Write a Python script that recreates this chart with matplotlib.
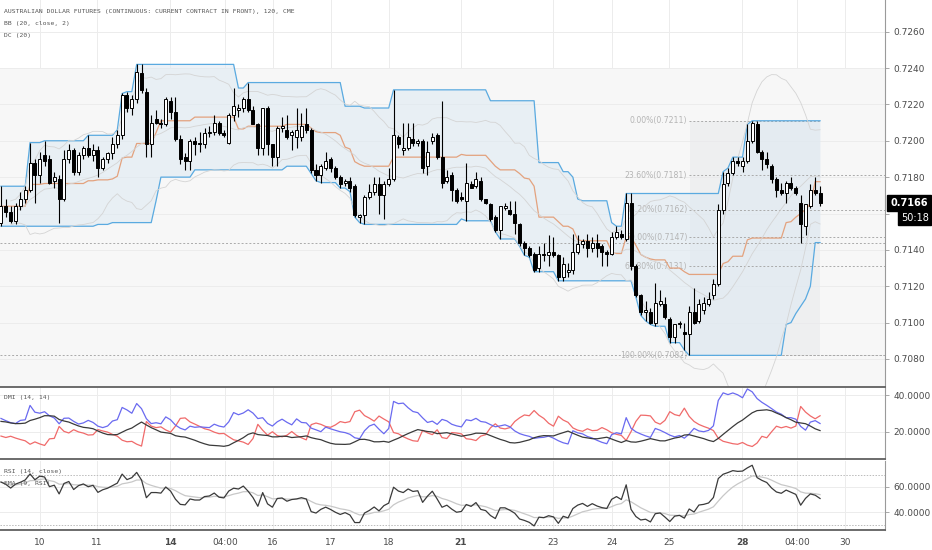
import matplotlib
matplotlib.use('Agg')
import matplotlib.pyplot as plt
import matplotlib.transforms as mtransforms
import numpy as np
import pandas as pd

# 120 min bars, prices in 1/10000 (0.7xxx)
opens = [7155, 7164, 7161, 7156, 7164, 7168, 7173, 7188, 7181, 7192, 7190, 7178, 7179, 7168, 7190, 7195, 7183, 7192, 7196, 7192,
         7195, 7185, 7190, 7193, 7198, 7203, 7225, 7218, 7223, 7237, 7227, 7198, 7212, 7210, 7209, 7222, 7216, 7201, 7191, 7189,
         7200, 7199, 7198, 7204, 7205, 7210, 7204, 7199, 7214, 7217, 7218, 7223, 7217, 7209, 7196, 7218, 7198, 7191, 7207, 7206,
         7203, 7202, 7202, 7209, 7206, 7184, 7181, 7185, 7190, 7185, 7180, 7177, 7178, 7175, 7158, 7159, 7169, 7172, 7176, 7170,
         7176, 7179, 7202, 7195, 7196, 7201, 7199, 7200, 7186, 7200, 7203, 7191, 7178, 7181, 7173, 7169, 7167, 7176, 7175, 7178,
         7168, 7165, 7158, 7151, 7163, 7162, 7160, 7154, 7144, 7141, 7138, 7130, 7138, 7137, 7139, 7137, 7125, 7128, 7129, 7139,
         7143, 7145, 7141, 7144, 7142, 7139, 7138, 7147, 7149, 7146, 7166, 7131, 7115, 7106, 7106, 7100, 7110, 7110, 7102, 7092,
         7099, 7095, 7094, 7106, 7101, 7107, 7110, 7115, 7121, 7162, 7177, 7182, 7189, 7186, 7189, 7200, 7209, 7194, 7190, 7186,
         7179, 7173, 7171, 7177, 7174, 7166, 7153, 7164, 7173, 7171]
highs = [7175, 7168, 7164, 7166, 7172, 7175, 7199, 7190, 7194, 7200, 7192, 7183, 7181, 7195, 7198, 7196, 7194, 7197, 7203, 7198,
         7197, 7191, 7194, 7202, 7206, 7226, 7227, 7225, 7242, 7242, 7229, 7214, 7217, 7212, 7224, 7224, 7224, 7203, 7193, 7201,
         7202, 7205, 7207, 7208, 7214, 7211, 7206, 7215, 7229, 7220, 7224, 7232, 7219, 7210, 7218, 7219, 7198, 7208, 7213, 7214,
         7206, 7218, 7215, 7218, 7207, 7187, 7187, 7194, 7191, 7186, 7181, 7179, 7180, 7176, 7160, 7170, 7176, 7180, 7180, 7178,
         7185, 7228, 7203, 7210, 7210, 7210, 7201, 7201, 7200, 7204, 7204, 7222, 7184, 7183, 7174, 7172, 7188, 7178, 7183, 7180,
         7168, 7166, 7159, 7164, 7166, 7167, 7167, 7155, 7145, 7142, 7139, 7142, 7144, 7148, 7147, 7138, 7136, 7133, 7149, 7148,
         7146, 7149, 7147, 7149, 7143, 7140, 7150, 7153, 7151, 7171, 7171, 7132, 7116, 7112, 7108, 7122, 7118, 7114, 7103, 7099,
         7101, 7100, 7109, 7119, 7113, 7114, 7117, 7124, 7165, 7183, 7185, 7191, 7191, 7191, 7209, 7211, 7211, 7195, 7194, 7187,
         7180, 7177, 7178, 7180, 7175, 7170, 7165, 7176, 7180, 7175]
lows = [7153, 7158, 7155, 7154, 7162, 7166, 7172, 7166, 7177, 7186, 7176, 7174, 7155, 7167, 7188, 7181, 7181, 7190, 7191, 7189,
        7180, 7184, 7188, 7190, 7196, 7201, 7216, 7214, 7221, 7226, 7191, 7191, 7209, 7207, 7208, 7212, 7200, 7187, 7184, 7184,
        7192, 7194, 7196, 7202, 7203, 7203, 7202, 7198, 7211, 7213, 7216, 7216, 7209, 7192, 7192, 7192, 7186, 7186, 7205, 7201,
        7195, 7196, 7200, 7204, 7182, 7178, 7177, 7184, 7183, 7179, 7174, 7175, 7172, 7158, 7155, 7154, 7168, 7170, 7160, 7157,
        7175, 7178, 7196, 7192, 7195, 7197, 7197, 7182, 7181, 7198, 7190, 7174, 7177, 7167, 7166, 7167, 7156, 7174, 7174, 7167,
        7165, 7156, 7150, 7146, 7162, 7159, 7149, 7142, 7137, 7136, 7128, 7128, 7134, 7131, 7136, 7123, 7123, 7125, 7127, 7138,
        7141, 7136, 7139, 7136, 7131, 7131, 7137, 7146, 7146, 7145, 7129, 7114, 7104, 7101, 7099, 7098, 7109, 7102, 7089, 7089,
        7097, 7085, 7082, 7099, 7100, 7105, 7109, 7113, 7120, 7160, 7175, 7181, 7186, 7183, 7188, 7199, 7193, 7184, 7185, 7177,
        7169, 7170, 7166, 7173, 7170, 7144, 7148, 7163, 7170, 7164]
closes = [7164, 7161, 7156, 7164, 7168, 7173, 7188, 7181, 7190, 7189, 7177, 7180, 7168, 7190, 7195, 7183, 7192, 7196, 7192, 7195,
          7185, 7190, 7193, 7198, 7203, 7225, 7218, 7223, 7238, 7228, 7198, 7210, 7210, 7209, 7223, 7216, 7201, 7190, 7189, 7200,
          7198, 7198, 7204, 7205, 7210, 7204, 7203, 7214, 7219, 7218, 7223, 7217, 7209, 7196, 7218, 7198, 7191, 7207, 7208, 7202,
          7205, 7206, 7208, 7206, 7184, 7181, 7186, 7189, 7185, 7180, 7176, 7178, 7174, 7159, 7159, 7169, 7172, 7176, 7170, 7176,
          7179, 7203, 7198, 7196, 7202, 7199, 7200, 7185, 7194, 7202, 7191, 7177, 7180, 7173, 7167, 7168, 7177, 7174, 7179, 7168,
          7166, 7157, 7151, 7164, 7164, 7160, 7155, 7144, 7141, 7137, 7129, 7138, 7137, 7139, 7137, 7125, 7132, 7129, 7139, 7143,
          7145, 7141, 7144, 7141, 7139, 7138, 7147, 7150, 7147, 7166, 7131, 7115, 7106, 7107, 7100, 7111, 7112, 7103, 7092, 7099,
          7100, 7094, 7106, 7100, 7110, 7111, 7113, 7121, 7162, 7176, 7182, 7189, 7188, 7189, 7200, 7210, 7194, 7190, 7187, 7179,
          7173, 7171, 7177, 7174, 7171, 7154, 7165, 7173, 7171, 7166]

tick_pos = [8.0, 19.8, 34.9, 46.2, 56.1, 68.1, 80.1, 94.9, 113.9, 126.1, 137.8, 152.9, 164.3, 174.2]
tick_labels = ['10', '11', '14', '04:00', '16', '17', '18', '21', '23', '24', '25', '28', '04:00', '30']
bold_labels = ['14', '21', '28']

fib_pct = ['0.00%', '23.60%', '38.20%', '50.00%', '61.80%', '100.00%']
fib_values = [0.7211, 0.7181, 0.7162, 0.7147, 0.7131, 0.7082]
hlines = [0.7144, 0.7082]

last_price = '0.7166'
countdown = '50:18'

o = np.array(opens) / 10000
h = np.array(highs) / 10000
l = np.array(lows) / 10000
c = np.array(closes) / 10000
n = len(c)
x = np.arange(n)

H = pd.Series(h); L = pd.Series(l); C = pd.Series(c)

# Donchian channel (20)
dc_up = H.rolling(20, min_periods=1).max()
dc_lo = L.rolling(20, min_periods=1).min()
dc_mid = (dc_up + dc_lo) / 2

# Bollinger (20, close, 2)
bb_mid = C.rolling(20, min_periods=3).mean()
bb_sd = C.rolling(20, min_periods=3).std(ddof=0)
bb_up = bb_mid + 2 * bb_sd
bb_lo = bb_mid - 2 * bb_sd


def wilder(vals, p=14):
    # Wilder smoothing, started from the mean of the first p values
    vals = np.asarray(vals, dtype=float)
    avg = np.nanmean(vals[1:p + 1])
    out = np.empty(len(vals))
    for i, v in enumerate(vals):
        if not np.isnan(v):
            avg = (avg * (p - 1) + v) / p
        out[i] = avg
    return out


# DMI (14, 14)
upm = H.diff().values
dnm = -L.diff().values
pdm = np.where((upm > dnm) & (upm > 0), upm, 0.0)
mdm = np.where((dnm > upm) & (dnm > 0), dnm, 0.0)
pdm[0] = np.nan; mdm[0] = np.nan
prev_c = C.shift(1).values
tr = np.nanmax(np.vstack([h - l, np.abs(h - prev_c), np.abs(l - prev_c)]), axis=0)
atr = wilder(tr)
pdi = 100 * wilder(pdm) / atr
mdi = 100 * wilder(mdm) / atr
dx = 100 * np.abs(pdi - mdi) / (pdi + mdi)
adx = wilder(dx)

# RSI (14) + EMA 9
d = C.diff().values
gain = np.where(np.isnan(d), np.nan, np.clip(d, 0, None))
loss = np.where(np.isnan(d), np.nan, np.clip(-d, 0, None))
rsi = 100 - 100 / (1 + wilder(gain) / wilder(loss))
rsi_ema = pd.Series(rsi).ewm(span=9, adjust=True).mean()

W, Hpx = 932, 550
fig = plt.figure(figsize=(W / 100, Hpx / 100), dpi=100)
fig.patch.set_facecolor('white')

right = 885 / W
ax = fig.add_axes([0, 1 - 387 / Hpx, right, 387 / Hpx])
ax_dmi = fig.add_axes([0, 1 - 459 / Hpx, right, 71 / Hpx], sharex=ax)
ax_rsi = fig.add_axes([0, 1 - 530 / Hpx, right, 69 / Hpx], sharex=ax)

xlim = (-0.2, 182.4)
grid_c = '#ececec'
txt_c = '#4a4a4a'

for a in (ax, ax_dmi, ax_rsi):
    a.set_facecolor('white')
    for s in ('top', 'left'):
        a.spines[s].set_visible(False)
    a.spines['right'].set_color('#9a9a9a')
    a.spines['bottom'].set_color('#606060')
    a.spines['bottom'].set_linewidth(1.3)
    a.yaxis.tick_right()
    a.tick_params(axis='y', length=3, width=0.6, color='#9a9a9a', labelsize=6.5,
                  labelcolor=txt_c, pad=3)
    a.tick_params(axis='x', length=0)
    for t in tick_pos:
        a.axvline(t, color=grid_c, lw=0.7, zorder=0)

# main pane
ylo, yhi = 0.70646, 0.72774
ax.set_ylim(ylo, yhi)
ax.set_xlim(*xlim)
ax.axhspan(ylo, 0.7240, color='#f7f7f7', zorder=0, lw=0)
yt = np.arange(0.7080, 0.7261, 0.0020)
ax.set_yticks(yt)
# the 0.7160 label sits under the last-price boxes
ax.set_yticklabels(['' if abs(v - 0.7160) < 1e-6 else '%.4f' % v for v in yt])
for v in yt:
    ax.axhline(v, color=grid_c, lw=0.7, zorder=0)
ax.tick_params(axis='x', labelbottom=False)

# fib box
ax.fill_between([142.2, 169.0], fib_values[-1], fib_values[0], color='#e9eaec', alpha=0.6, lw=0, zorder=0.5)

ax.fill_between(x, dc_lo, dc_up, color='#dde9f3', alpha=0.55, lw=0, zorder=1)
ax.plot(x, dc_up, color='#5aaae0', lw=0.9, zorder=2)
ax.plot(x, dc_lo, color='#5aaae0', lw=0.9, zorder=2)
ax.plot(x, dc_mid, color='#e3a27e', lw=0.9, zorder=2)
for s in (bb_up, bb_lo, bb_mid):
    ax.plot(x, s, color='#d4d4d4', lw=0.6, zorder=2)

for v in hlines:
    ax.axhline(v, color='#aaaaaa', lw=0.7, ls=(0, (2, 2)), zorder=1.5)

for p, v in zip(fib_pct, fib_values):
    x1 = 169.0 if v == fib_values[0] else xlim[1]
    ax.plot([142.0, x1], [v, v], color='#aaaaaa', lw=0.7, ls=(0, (2, 2)), zorder=1.5)
    ax.text(141.6, v, '%s(%.4f)' % (p, v), ha='right', va='center', fontsize=5.6,
            color='#b4b4b4', zorder=1.6)

# candles
up = c >= o
body_lo = np.minimum(o, c)
body_h = np.maximum(np.abs(c - o), 0.00003)
ax.vlines(x, l, h, color='black', lw=0.8, zorder=3)
ax.bar(x[up], body_h[up], bottom=body_lo[up], width=0.62, color='white',
       edgecolor='black', linewidth=0.7, zorder=4)
ax.bar(x[~up], body_h[~up], bottom=body_lo[~up], width=0.62, color='black',
       edgecolor='black', linewidth=0.7, zorder=4)

blend = mtransforms.blended_transform_factory(ax.transAxes, ax.transData)
ax.text(1.006, float(last_price), last_price, transform=blend, ha='left', va='center',
        fontsize=7, color='white', fontweight='bold',
        bbox=dict(boxstyle='square,pad=0.3', fc='black', ec='black'))
ax.text(1.018, 0.71575, countdown, transform=blend, ha='left', va='center',
        fontsize=7, color='white',
        bbox=dict(boxstyle='square,pad=0.25', fc='black', ec='black'))

# DMI pane
ax_dmi.set_ylim(5, 44)
ax_dmi.set_yticks([20, 40])
ax_dmi.set_yticklabels(['20.0000', '40.0000'])
for v in (20, 40):
    ax_dmi.axhline(v, color=grid_c, lw=0.7, zorder=0)
ax_dmi.plot(x, mdi, color='#f06a6a', lw=0.9)
ax_dmi.plot(x, pdi, color='#6a6af0', lw=0.9)
ax_dmi.plot(x, adx, color='#3a3a3a', lw=0.9)
ax_dmi.tick_params(axis='x', labelbottom=False)

# RSI pane
ax_rsi.set_ylim(25.6, 80.8)
ax_rsi.set_yticks([40, 60])
ax_rsi.set_yticklabels(['40.0000', '60.0000'])
for v in (40, 60):
    ax_rsi.axhline(v, color=grid_c, lw=0.7, zorder=0)
for v in (30, 70):
    ax_rsi.axhline(v, color='#bbbbbb', lw=0.7, ls=(0, (1.5, 1.5)), zorder=0.5)
ax_rsi.plot(x, rsi_ema, color='#c8c8c8', lw=0.9)
ax_rsi.plot(x, rsi, color='#3a3a3a', lw=0.9)
ax_rsi.set_xticks(tick_pos)
ax_rsi.set_xticklabels(tick_labels)
ax_rsi.tick_params(axis='x', labelsize=6.5, labelcolor=txt_c, pad=6)
for t in ax_rsi.get_xticklabels():
    if t.get_text() in bold_labels:
        t.set_fontweight('bold')

mono = dict(family='DejaVu Sans Mono', fontsize=4.6, color='#555555', va='center')
fig.text(4 / W, 1 - 12 / Hpx, 'AUSTRALIAN DOLLAR FUTURES (CONTINUOUS: CURRENT CONTRACT IN FRONT), 120, CME', **mono)
fig.text(4 / W, 1 - 23.5 / Hpx, 'BB (20, close, 2)', **mono)
fig.text(4 / W, 1 - 35 / Hpx, 'DC (20)', **mono)
fig.text(4 / W, 1 - 397 / Hpx, 'DMI (14, 14)', **mono)
fig.text(4 / W, 1 - 472 / Hpx, 'RSI (14, close)', **mono)
fig.text(4 / W, 1 - 484 / Hpx, 'EMA (9, RSI)', **mono)

fig.savefig('out.png', dpi=100)
